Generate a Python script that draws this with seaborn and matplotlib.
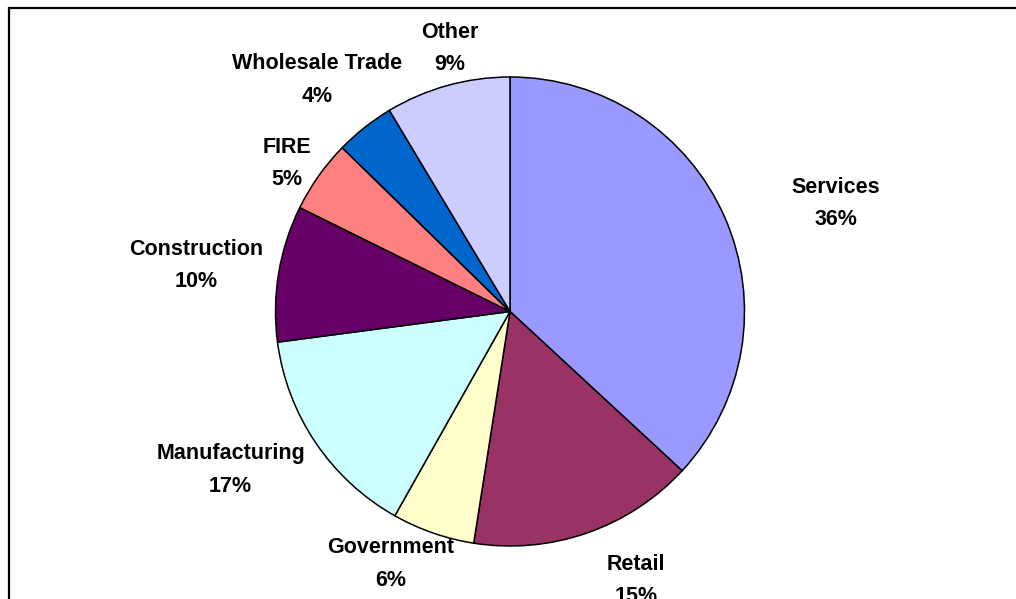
import matplotlib
matplotlib.use("Agg")
import matplotlib.pyplot as plt
from matplotlib.patches import Rectangle
import seaborn as sns
import numpy as np

# Data (slice shares; label text as printed)
sectors = ["Services", "Retail", "Government", "Manufacturing",
           "Construction", "FIRE", "Wholesale Trade", "Other"]
shares = [36.9, 15.6, 5.7, 14.75, 9.4, 5.0, 4.1, 8.6]
pct_labels = ["36%", "15%", "6%", "17%", "10%", "5%", "4%", "9%"]
colors = ["#9999FF", "#993366", "#FFFFCC", "#CCFFFF",
          "#660066", "#FF8080", "#0066CC", "#CCCCFF"]

# Label layout relative to each wedge: (angle offset in degrees, radius factor)
label_layout = [(-5.27, 1.464), (5.91, 1.265), (-6.08, 1.190), (-4.49, 1.370),
                (1.10, 1.353), (1.77, 1.140), (1.47, 1.285), (-2.62, 1.152)]

sns.set_theme(style="white")
plt.rcParams["font.family"] = ["Liberation Sans", "DejaVu Sans"]

W, H = 1016, 599
fig = plt.figure(figsize=(W / 100, H / 100), dpi=100)
fig.patch.set_facecolor("white")
ax = fig.add_axes([0, 0, 1, 1])

cx, cy, r = 510, H - 311.5, 234.5
wedges, _ = ax.pie(shares, colors=colors, startangle=90, counterclock=False,
                   center=(cx, cy), radius=r,
                   wedgeprops=dict(edgecolor="black", linewidth=1.1))

ax.set_xlim(0, W)
ax.set_ylim(0, H)
ax.set_aspect("equal")
ax.axis("off")

for w, name, pct, (dang, fac) in zip(wedges, sectors, pct_labels, label_layout):
    mid = np.deg2rad((w.theta1 + w.theta2) / 2 + dang)
    x = cx + r * fac * np.cos(mid)
    y = cy + r * fac * np.sin(mid)
    ax.text(x, y, f"{name}\n{pct}", ha="center", va="center",
            fontsize=15.5, fontweight="bold", color="black",
            linespacing=1.7)

# Outer chart frame (left and top visible, right/bottom beyond the image)
frame = Rectangle((8.5 / W, -0.1), 1.2, 1.1 - 8.0 / H,
                  transform=fig.transFigure, fill=False,
                  edgecolor="black", linewidth=1.6, clip_on=False)
fig.patches.append(frame)

fig.savefig("out.png", dpi=100, facecolor="white")
